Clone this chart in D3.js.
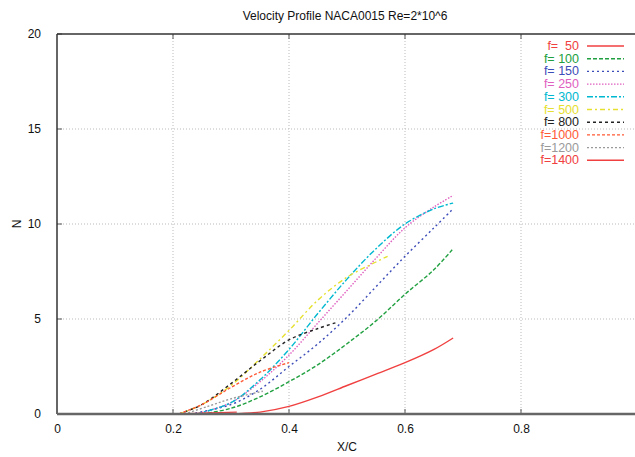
<!DOCTYPE html>
<html>
<head>
<meta charset="utf-8">
<script src="https://cdn.jsdelivr.net/npm/d3@7"></script>
<style>
  body { margin: 0; background: #fff; }
  svg { display: block; font-family: "Liberation Sans", Arial, sans-serif; }
</style>
</head>
<body>
<svg id="chart" width="635" height="457"></svg>
<script>
// series data: [x/c, N]
var f50   = [[0.30,0],[0.35,0.1],[0.40,0.4],[0.45,0.9],[0.50,1.5],[0.55,2.1],[0.60,2.7],[0.65,3.4],[0.683,4.0]];
var f100  = [[0.25,0],[0.30,0.3],[0.35,0.9],[0.40,1.7],[0.45,2.6],[0.50,3.7],[0.55,4.9],[0.60,6.3],[0.65,7.6],[0.683,8.7]];
var f150  = [[0.23,0],[0.30,0.5],[0.35,1.3],[0.40,2.5],[0.45,3.7],[0.50,5.1],[0.55,6.7],[0.60,8.3],[0.65,9.8],[0.683,10.8]];
var f250  = [[0.24,0],[0.30,0.6],[0.35,1.7],[0.40,3.1],[0.45,4.8],[0.50,6.5],[0.55,8.2],[0.60,9.8],[0.65,10.9],[0.683,11.5]];
var f300  = [[0.24,0],[0.30,0.6],[0.35,1.8],[0.40,3.4],[0.45,5.3],[0.50,7.1],[0.55,8.7],[0.60,10.0],[0.65,10.8],[0.683,11.1]];
var f500  = [[0.21,0],[0.25,0.5],[0.30,1.5],[0.35,2.9],[0.40,4.4],[0.45,6.0],[0.50,7.2],[0.55,8.0],[0.57,8.3]];
var f800  = [[0.21,0],[0.25,0.5],[0.30,1.6],[0.35,2.8],[0.40,3.9],[0.45,4.5],[0.48,4.8]];
var f1000 = [[0.21,0],[0.25,0.5],[0.30,1.4],[0.35,2.2],[0.40,2.7]];
var f1200 = [[0.22,0],[0.26,0.4],[0.30,0.8],[0.355,1.2]];
var f1400 = [[0.21,0],[0.26,0.05],[0.31,0.1]];

var labels = ["f=  50","f= 100","f= 150","f= 250","f= 300","f= 500","f= 800","f=1000","f=1200","f=1400"];
var colors = ["#f04040","#20a040","#3c4cb8","#e060c0","#00b8d0","#e6e030","#222222","#ff5a36","#9a9a9a","#f04040"];
var dashes = [null,"4,2","2,3","1.5,1.5","6,2,2,2","5,3,2,3","3,3","3,2","2,2",null];
var xTicks = [0, 0.2, 0.4, 0.6, 0.8];
var yTicks = [0, 5, 10, 15, 20];

var series = [f50, f100, f150, f250, f300, f500, f800, f1000, f1200, f1400];

var svg = d3.select("#chart");
var margin = {top: 34, left: 57, bottom: 43};
var height = 457 - margin.top - margin.bottom;

var x = d3.scaleLinear().domain([0, 1]).range([margin.left, 637]);
var y = d3.scaleLinear().domain([0, 20]).range([margin.top + height, margin.top]);

// grid
svg.append("g").selectAll("line").data(xTicks.filter(d => d > 0))
  .join("line")
  .attr("x1", d => x(d)).attr("x2", d => x(d))
  .attr("y1", y(0)).attr("y2", y(20))
  .attr("stroke", "#bbb").attr("stroke-dasharray", "1,2");
svg.append("g").selectAll("line").data(yTicks.filter(d => d > 0 && d < 20))
  .join("line")
  .attr("x1", x(0)).attr("x2", 635)
  .attr("y1", d => y(d)).attr("y2", d => y(d))
  .attr("stroke", "#bbb").attr("stroke-dasharray", "1,2");

// axes
var xAxis = svg.append("g")
  .attr("transform", "translate(0," + y(0) + ")")
  .call(d3.axisBottom(x).tickValues(xTicks).tickSize(0).tickPadding(10).tickFormat(d3.format("")));
xAxis.select(".domain").remove();
xAxis.selectAll("text").attr("font-size", 12).attr("fill", "#111").attr("font-family", "Liberation Sans, Arial, sans-serif");

var yAxis = svg.append("g")
  .attr("transform", "translate(" + x(0) + ",0)")
  .call(d3.axisLeft(y).tickValues(yTicks).tickSize(0).tickPadding(16));
yAxis.select(".domain").remove();
yAxis.selectAll("text").attr("font-size", 12).attr("fill", "#111").attr("font-family", "Liberation Sans, Arial, sans-serif");

// tick marks inside the frame
svg.append("g").selectAll("line").data(xTicks.filter(d => d > 0))
  .join("line")
  .attr("x1", d => x(d)).attr("x2", d => x(d))
  .attr("y1", y(0)).attr("y2", y(0) - 5)
  .attr("stroke", "#555");
svg.append("g").selectAll("line").data(xTicks.filter(d => d > 0))
  .join("line")
  .attr("x1", d => x(d)).attr("x2", d => x(d))
  .attr("y1", y(20)).attr("y2", y(20) + 5)
  .attr("stroke", "#555");
svg.append("g").selectAll("line").data(yTicks)
  .join("line")
  .attr("x1", x(0)).attr("x2", x(0) + 5)
  .attr("y1", d => y(d)).attr("y2", d => y(d))
  .attr("stroke", "#555");

// frame
svg.append("line").attr("x1", x(0)).attr("x2", 635).attr("y1", y(20)).attr("y2", y(20))
  .attr("stroke", "#333").attr("stroke-width", 1.5);
svg.append("line").attr("x1", x(0)).attr("x2", x(0)).attr("y1", y(20)).attr("y2", y(0))
  .attr("stroke", "#333").attr("stroke-width", 1.5);

// lines
var line = d3.line().x(d => x(d[0])).y(d => y(d[1])).curve(d3.curveCatmullRom);
svg.append("g").selectAll("path").data(series)
  .join("path")
  .attr("d", line)
  .attr("fill", "none")
  .attr("stroke", (d, i) => colors[i])
  .attr("stroke-width", 1.4)
  .attr("stroke-dasharray", (d, i) => dashes[i]);

// bottom axis line (drawn over curves)
svg.append("line").attr("x1", x(0)).attr("x2", 635).attr("y1", y(0)).attr("y2", y(0))
  .attr("stroke", "#666").attr("stroke-width", 2.5);

// legend
var legend = svg.append("g").selectAll("g").data(labels)
  .join("g")
  .attr("transform", (d, i) => "translate(0," + (46 + i * 12.7) + ")");
legend.append("text")
  .attr("x", 579).attr("y", 4)
  .attr("text-anchor", "end")
  .attr("font-size", 12.5)
  .style("white-space", "pre")
  .attr("fill", (d, i) => colors[i])
  .text(d => d);
legend.append("line")
  .attr("x1", 587).attr("x2", 624)
  .attr("stroke", (d, i) => colors[i])
  .attr("stroke-width", 1.4)
  .attr("stroke-dasharray", (d, i) => dashes[i]);

// titles
svg.append("text").attr("x", 345).attr("y", 20).attr("text-anchor", "middle")
  .attr("font-size", 12).attr("fill", "#111").text("Velocity Profile NACA0015 Re=2*10^6");
svg.append("text").attr("x", 347).attr("y", 451).attr("text-anchor", "middle")
  .attr("font-size", 12).attr("fill", "#111").text("X/C");
svg.append("text").attr("transform", "translate(21," + y(10) + ") rotate(-90)")
  .attr("text-anchor", "middle").attr("font-size", 12).attr("fill", "#111").text("N");
</script>
</body>
</html>
